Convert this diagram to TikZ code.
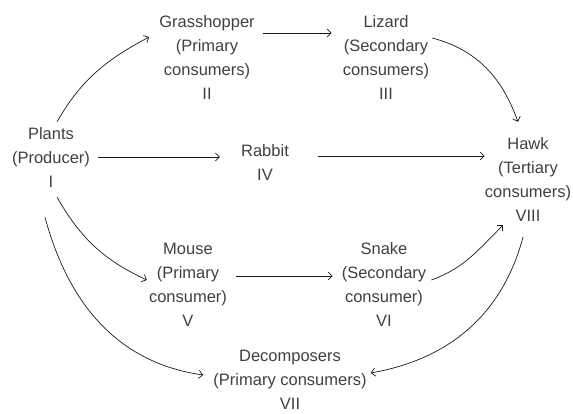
\documentclass[tikz,border=0pt]{standalone}
\usepackage{fontspec}
\setmainfont{Liberation Sans}
\usepackage{tikz}
\usetikzlibrary{arrows.meta, positioning, calc}
\usepackage{xcolor}
\definecolor{webtext}{HTML}{404040}
\definecolor{webline}{HTML}{1A1A1A}

\begin{document}
\begin{tikzpicture}[
    x=1pt, y=1pt,
    organism/.style={
        align=center,
        inner sep=2pt,
        text=webtext,
        font=\fontsize{16.5}{24}\selectfont
    },
    arrow/.style={
        -{Straight Barb[length=4pt,width=8pt]},
        line width=0.7pt,
        webline
    }
]
\useasboundingbox (0,0) rectangle (573,-414);

% Organisms
\node[organism] (plants) at (51,-158) {Plants\\(Producer)\\I};
\node[organism] (grass) at (207,-58) {Grasshopper\\(Primary\\consumers)\\II};
\node[organism] (lizard) at (386,-58) {Lizard\\(Secondary\\consumers)\\III};
\node[organism] (rabbit) at (265,-163) {Rabbit\\IV};
\node[organism] (hawk) at (528,-180) {Hawk\\(Tertiary\\consumers)\\VIII};
\node[organism] (mouse) at (188,-285) {Mouse\\(Primary\\consumer)\\V};
\node[organism] (snake) at (384,-285) {Snake\\(Secondary\\consumer)\\VI};
\node[organism] (decomp) at (290,-380) {Decomposers\\(Primary consumers)\\VII};

% Upper chain
\draw[arrow] ([shift={(6pt,4pt)}]plants.north) to[out=60, in=208] ([shift={(-8pt,21pt)}]grass.west);
\draw[arrow] ([shift={(6pt,25pt)}]grass.east) -- ([shift={(-9pt,25pt)}]lizard.west);
\draw[arrow] ([shift={(1pt,20pt)}]lizard.east) to[out=-15, in=110] ([shift={(-10pt,14pt)}]hawk.north);

% Middle chain
\draw[arrow] ([shift={(6pt,1pt)}]plants.east) -- ([shift={(-19pt,6pt)}]rabbit.west);
\draw[arrow] ([shift={(27pt,7pt)}]rabbit.east) -- ([shift={(2pt,24pt)}]hawk.west);

% Lower chain
\draw[arrow] ([shift={(6pt,-7pt)}]plants.south) to[out=-60, in=155] ([shift={(0pt,5pt)}]mouse.west);
\draw[arrow] ([shift={(7pt,9pt)}]mouse.east) -- ([shift={(-7pt,9pt)}]snake.west);
\draw[arrow] ([shift={(3pt,5pt)}]snake.east) to[out=20, in=225] ([shift={(-25pt,-1pt)}]hawk.south);

% Decomposers
\draw[arrow] ([shift={(-5pt,-13pt)}]hawk.south) to[out=-105, in=10] ([shift={(2pt,7pt)}]decomp.east);
\draw[arrow] ([shift={(-6pt,-27pt)}]plants.south) to[out=-75, in=172] ([shift={(-8pt,5pt)}]decomp.west);

\end{tikzpicture}
\end{document}
